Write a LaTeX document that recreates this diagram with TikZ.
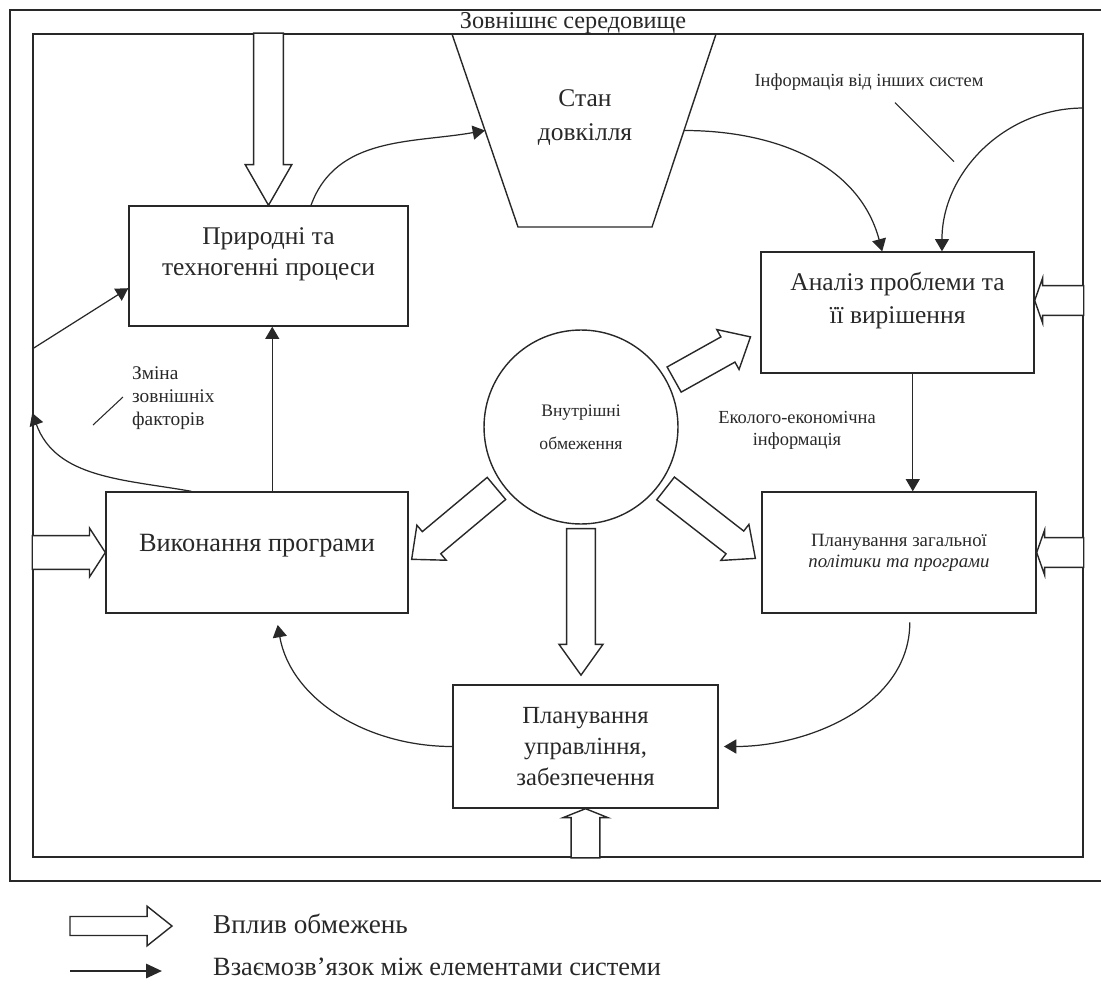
\documentclass[tikz,border=0pt]{standalone}
\usepackage{fontspec}
\setmainfont{Liberation Serif}
\usetikzlibrary{arrows.meta, positioning, calc}
\definecolor{ink}{RGB}{40, 40, 40}
\tikzset{
    box/.style={
        rectangle, draw=ink, line width=0.8pt, text=ink, align=center,
        font=\fontsize{14.5}{17.6}\selectfont
    },
    note/.style={text=ink, align=center, font=\fontsize{10.5}{12.5}\selectfont},
    link/.style={-{Triangle[length=7pt,width=8pt]}, draw=ink, line width=0.7pt},
    leader/.style={draw=ink, line width=0.6pt},
    fat/.style n args={3}{draw=ink, line width=0.8pt, fill=white,
        to path={let \p1=(\tikztostart), \p2=(\tikztotarget),
            \n1={atan2(\y2-\y1,\x2-\x1)},
            \n2={veclen(\x2-\x1,\y2-\y1)-#3} in
            ($(\p1)+(\n1+90:#1)$) -- ($(\p1)+(\n1:\n2)+(\n1+90:#1)$)
            -- ($(\p1)+(\n1:\n2)+(\n1+90:#2)$) -- (\p2)
            -- ($(\p1)+(\n1:\n2)+(\n1-90:#2)$)
            -- ($(\p1)+(\n1:\n2)+(\n1-90:#1)$)
            -- ($(\p1)+(\n1-90:#1)$) -- cycle}},
}

\begin{document}
\begin{tikzpicture}[x=0.02cm, y=-0.02cm]
    \useasboundingbox (0,0) rectangle (1101,983);

    \draw[ink, line width=1pt] (1101,10) -- (10,10) -- (10,881) -- (1101,881);
    \node[draw=ink, line width=1pt, minimum width=21cm, minimum height=16.46cm] (system) at (558,445.5) {};
    \node[text=ink, font=\fontsize{13.8}{15}\selectfont] (env) at (573,23.5) {Зовнішнє середовище};

    % environment state
    \coordinate (stTL) at (452,34);
    \coordinate (stBL) at (518,227);
    \coordinate (stBR) at (652,227);
    \coordinate (stTR) at (716,34);
    \draw[ink, line width=0.8pt] (stTL) -- (stBL) -- (stBR) -- (stTR);
    \node[box, draw=none, font=\fontsize{14.5}{19.8}\selectfont] (state) at (585,117.5) {Стан\\довкілля};
    \coordinate (stateL) at ($(stTL)!.5!(stBL)$);
    \coordinate (stateR) at ($(stTR)!.5!(stBR)$);

    \node[box, minimum width=5.58cm, minimum height=2.4cm, text depth=16pt] (proc) at (268.5,266) {Природні та\\техногенні процеси};
    \node[box, minimum width=6.04cm, minimum height=2.42cm, text depth=10.8pt, font=\fontsize{15}{18}\selectfont] (exec) at (257,552.5) {Виконання програми};
    \node[box, minimum width=5.46cm, minimum height=2.42cm, text depth=17pt, font=\fontsize{14.5}{18.7}\selectfont] (analysis) at (897.5,312.5) {Аналіз проблеми та\\її вирішення};
    \node[box, minimum width=5.48cm, minimum height=2.42cm, font=\fontsize{10.7}{11.9}\selectfont] (plan) at (899,552.5) {Планування загальної\\\textit{політики та програми}};
    \node[box, minimum width=5.3cm, minimum height=2.46cm, font=\fontsize{14}{17.6}\selectfont] (mgmt) at (585.5,746.5) {Планування\\управління,\\забезпечення};
    \node[circle, draw=ink, line width=0.8pt, minimum size=3.88cm, text=ink, align=center, font=\fontsize{10}{18.7}\selectfont] (inner) at (581,427) {Внутрішні\\обмеження};

    \node[note] (info) at (869,82) {Інформація від інших систем};
    \node[note] (econ) at (797,430) {Еколого-економічна\\інформація};
    \node[note, align=left, anchor=west, font=\fontsize{11}{13}\selectfont] (change) at (126,398) {Зміна\\зовнішніх\\факторів};

    \coordinate (infoIn) at (system.east |- 0,108);
    \coordinate (envIn) at (system.west |- 0,349);
    \coordinate (envOut) at (system.west |- 0,413);

    \draw[link] (proc.55) to[out=70, in=190] (stateL);
    \draw[link] (stateR) to[out=0, in=105] (analysis.104);
    \draw[link] (infoIn) to[out=180, in=90] (analysis.54);
    \draw[link] (envIn) -- (proc.189);
    \draw[link] (exec.137) to[out=170, in=-70] (envOut);
    \draw[link] (exec.76) -- (exec.76 |- proc.south);
    \draw[link] (analysis.-76) -- (analysis.-76 |- plan.north);
    \draw[link, shorten <=5pt, shorten >=3pt] (plan.-80) to[out=-90, in=0] (mgmt.east);
    \draw[link, shorten >=6.5pt] (mgmt.west) to[out=180, in=-80] (exec.-73);

    \draw[leader] ($(info.south)+(26,6)$) -- ++(59,59);
    \draw[leader] ($(change.west)+(-33,27)$) -- ++(30,-28);

    % constraints
    \draw[fat={8.5pt}{13.3pt}{23.2pt}] (proc.north |- system.north) to (proc.north);
    \draw[fat={9.6pt}{13.9pt}{9pt}] (exec.west -| system.west) to (exec.west);
    \draw[fat={8.5pt}{12.8pt}{4.5pt}] (analysis.5 -| system.east) to (analysis.5);
    \draw[fat={8.5pt}{12.8pt}{4.5pt}] (plan.east -| system.east) to (plan.east);
    \draw[fat={8.2pt}{12.8pt}{5.1pt}] (mgmt.south |- system.south) to (mgmt.south);
    \draw[fat={8.2pt}{13pt}{14.7pt}] ($(inner.center)!1.07!(inner.27)$) to ($(inner.center)!1.965!(inner.28)$);
    \draw[fat={8.2pt}{13pt}{14.7pt}] ($(inner.center)!1.07!(inner.-36)$) to ($(inner.center)!2.235!(inner.-37.5)$);
    \draw[fat={8.2pt}{13pt}{14.7pt}] ($(inner.center)!1.07!(inner.216)$) to ($(inner.center)!2.2!(inner.218)$);
    \draw[fat={8.2pt}{12.5pt}{17.5pt}] ($(inner.center)!1.04!(inner.south)$) to ($(inner.center)!2.54!(inner.south)$);

    % legend
    \node[text=ink, anchor=west, font=\fontsize{15.5}{18}\selectfont] (legLimit) at (207,924) {Вплив обмежень};
    \node[text=ink, anchor=west, font=\fontsize{15}{18}\selectfont] (legLink) at (207,967) {Взаємозв’язок між елементами системи};
    \draw[fat={5.4pt}{11.3pt}{14.2pt}] ($(legLimit.west)+(-137,2)$) to ($(legLimit.west)+(-35,2)$);
    \draw[-{Triangle[length=9pt,width=8pt]}, draw=ink, line width=1.4pt] ($(legLink.west)+(-137,4)$) -- ($(legLink.west)+(-45,4)$);
\end{tikzpicture}
\end{document}
